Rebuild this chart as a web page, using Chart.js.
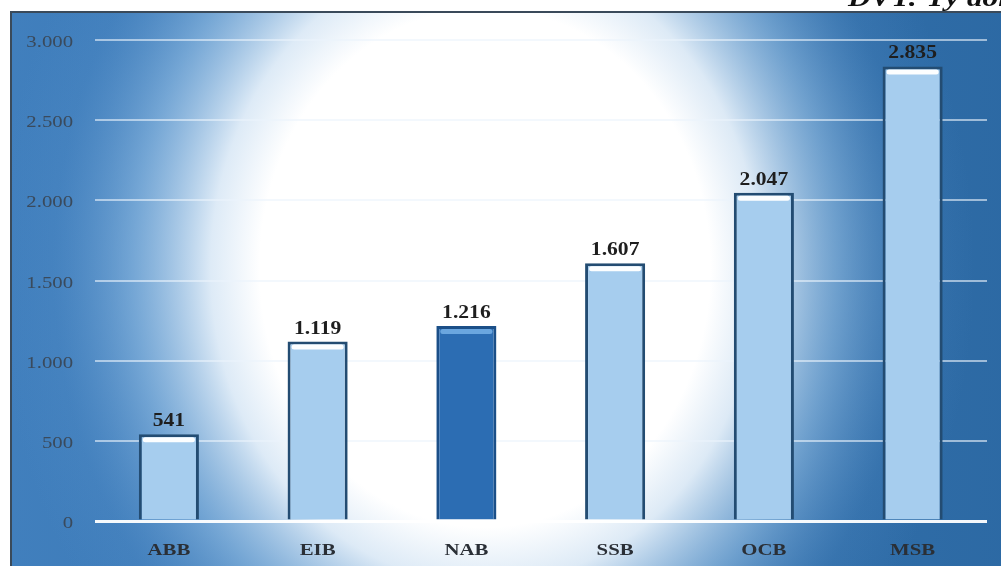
<!DOCTYPE html>
<html>
<head>
<meta charset="utf-8">
<script src="https://cdn.jsdelivr.net/npm/chart.js@4.4.0/dist/chart.umd.min.js"></script>
<style>
html,body{margin:0;padding:0;background:#fff;}
#wrap{width:1001px;height:566px;position:relative;}
</style>
</head>
<body>
<div id="wrap"><canvas id="c" width="1001" height="566"></canvas></div>
<script>
const categories = ["ABB", "EIB", "NAB", "SSB", "OCB", "MSB"];
const values = [541, 1119, 1216, 1607, 2047, 2835];
const highlightIndex = 2;
const unitLabel = "ĐVT: Tỷ đồng";
const yMin = 0, yMax = 3000, yStep = 500;

const SERIF = "'Liberation Serif', 'Times New Roman', serif";
function fmt(v){ return String(v).replace(/\B(?=(\d{3})+(?!\d))/g, "."); }

function stretchText(ctx, text, x, y, align, sx){
  ctx.save();
  ctx.translate(x, y);
  ctx.scale(sx, 1);
  ctx.textAlign = align;
  ctx.fillText(text, 0, 0);
  ctx.restore();
}

const bgPlugin = {
  id: "bg",
  beforeDraw(chart){
    const ctx = chart.ctx, W = chart.width, H = chart.height;
    ctx.save();
    ctx.fillStyle = "#ffffff";
    ctx.fillRect(0,0,W,H);
    const x0 = 11, y0 = 12;
    ctx.fillStyle = "#3674b2";
    ctx.fillRect(x0,y0,W-x0,H-y0);
    const lg = ctx.createLinearGradient(x0,0,W,0);
    lg.addColorStop(0,"rgba(75,138,200,0.5)");
    lg.addColorStop(1,"rgba(35,95,150,0.5)");
    ctx.fillStyle = lg;
    ctx.fillRect(x0,y0,W-x0,H-y0);
    ctx.beginPath();
    ctx.rect(x0,y0,W-x0,H-y0);
    ctx.clip();
    ctx.translate(485,268);
    ctx.scale(1,1.15);
    const rg = ctx.createRadialGradient(0,0,0,0,0,490);
    rg.addColorStop(0,"rgba(255,255,255,1)");
    rg.addColorStop(0.46,"rgba(255,255,255,1)");
    rg.addColorStop(0.56,"rgba(235,244,252,0.92)");
    rg.addColorStop(0.72,"rgba(160,200,235,0.55)");
    rg.addColorStop(0.88,"rgba(100,155,210,0.15)");
    rg.addColorStop(1,"rgba(90,150,210,0)");
    ctx.fillStyle = rg;
    ctx.fillRect(-600,-600,1200,1200);
    ctx.restore();
    ctx.save();
    ctx.strokeStyle = "#3a4a5a";
    ctx.lineWidth = 2;
    ctx.beginPath();
    ctx.moveTo(x0,H); ctx.lineTo(x0,y0); ctx.lineTo(W,y0);
    ctx.stroke();
    ctx.fillStyle = "#111";
    ctx.font = "italic bold 26px " + SERIF;
    ctx.textBaseline = "alphabetic";
    stretchText(ctx, unitLabel, 848, 6, "left", 1.2);
    ctx.restore();
  }
};

const textPlugin = {
  id: "texts",
  afterDraw(chart){
    const ctx = chart.ctx;
    const ys = chart.scales.y, xs = chart.scales.x;
    ctx.save();
    ctx.textBaseline = "alphabetic";
    ctx.fillStyle = "#3a4a5c";
    ctx.font = "17px " + SERIF;
    ys.ticks.forEach(t => {
      const py = ys.getPixelForValue(t.value);
      stretchText(ctx, fmt(t.value), 73, py + 7, "right", 1.22);
    });
    ctx.fillStyle = "#2a2f36";
    ctx.font = "bold 16px " + SERIF;
    categories.forEach((c, i) => {
      stretchText(ctx, c, xs.getPixelForValue(i), 555, "center", 1.3);
    });
    ctx.restore();
  }
};

const barDeco = {
  id: "barDeco",
  afterDatasetsDraw(chart){
    const ctx = chart.ctx;
    const meta = chart.getDatasetMeta(0);
    ctx.save();
    meta.data.forEach((bar, i) => {
      const w = bar.width;
      const left = bar.x - w/2;
      const top = bar.y;
      ctx.fillStyle = i === highlightIndex ? "rgba(110,170,225,0.95)" : "rgba(255,255,255,0.97)";
      ctx.beginPath();
      if (ctx.roundRect) ctx.roundRect(left + 4, top + 3, w - 8, 5, 2.5);
      else ctx.rect(left + 4, top + 3, w - 8, 5);
      ctx.fill();
      ctx.fillStyle = "#1e1e1e";
      ctx.font = "bold 18px " + SERIF;
      ctx.textBaseline = "alphabetic";
      stretchText(ctx, fmt(values[i]), bar.x, top - 8, "center", 1.2);
    });
    ctx.restore();
  }
};

const ctx = document.getElementById("c").getContext("2d");
const fillColors = values.map((v,i) => i === highlightIndex ? "#2c6db3" : "#a6cdee");
const borderColors = values.map((v,i) => i === highlightIndex ? "#1b4f88" : "#234c72");

new Chart(ctx, {
  type: "bar",
  data: {
    labels: categories,
    datasets: [{
      data: values,
      backgroundColor: fillColors,
      borderColor: borderColors,
      borderWidth: 3,
      borderSkipped: "bottom",
      barPercentage: 0.8,
      categoryPercentage: 0.505
    }]
  },
  options: {
    responsive: false,
    animation: false,
    devicePixelRatio: 1,
    layout: { padding: { left: 0, right: 14, top: 40, bottom: 0 } },
    plugins: { legend: { display: false }, tooltip: { enabled: false } },
    scales: {
      x: {
        grid: { display: false, drawTicks: false },
        border: { display: false },
        ticks: { display: false },
        afterFit(scale){ scale.height = 45; }
      },
      y: {
        min: yMin, max: yMax,
        grid: {
          drawTicks: false,
          color: (c) => c.tick && c.tick.value === 0 ? "rgba(255,255,255,0.95)" : "rgba(235,244,252,0.6)",
          lineWidth: (c) => c.tick && c.tick.value === 0 ? 3 : 2
        },
        border: { display: false },
        ticks: { display: false, stepSize: yStep },
        afterFit(scale){ scale.width = 94.5; }
      }
    }
  },
  plugins: [bgPlugin, barDeco, textPlugin]
});
</script>
</body>
</html>
